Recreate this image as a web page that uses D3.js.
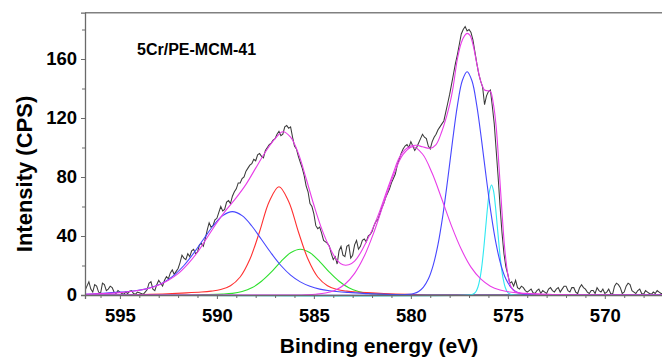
<!DOCTYPE html>
<html><head><meta charset="utf-8">
<script src="https://cdn.jsdelivr.net/npm/d3@7"></script>
<style>
body{margin:0;background:#fff;}
svg{display:block;}
text{font-family:"Liberation Sans",Arial,Helvetica,sans-serif;font-weight:bold;fill:#000;}
</style>
</head><body>
<svg id="chart" width="662" height="358"></svg>
<script>
// ---------- labels ----------
const sampleLabel = "5Cr/PE-MCM-41";
const xTitle = "Binding energy (eV)";
const yTitle = "Intensity (CPS)";
const xTickValues = [595, 590, 585, 580, 575, 570];
const yTickValues = [0, 40, 80, 120, 160];
const yMinorTicks = [20, 60, 100, 140, 180];
const xMinorTicks = [596, 594, 593, 592, 591, 589, 588, 587, 586, 584, 583, 582, 581, 579, 578, 577, 576, 574, 573, 572, 571, 569, 568];

// ---------- raw spectrum (counts, every 0.1 eV from 596.8 eV down to 567.0 eV) ----------
const rawStart = 596.8, rawStep = 0.1;
const rawCounts = [
 3, 6, 9, 4, 2, 7, 6, 2, 1, 8,
 7, 3, 4, 6, 5, 2, 1, 3, 2, 1,
 0.5, 2, 1, 2.5, 3, 1, 0.5, 2, 1.5, 1,
 0.5, 2, 3.5, 8, 9, 4, 3, 7, 10, 8,
 6, 10, 12.5, 11, 15, 17, 14, 16, 18, 22,
 27, 25, 24, 28, 26, 30, 31, 28, 29, 34,
 35, 33, 38, 44, 49, 46, 47, 51, 52, 56,
 60, 57, 58, 63, 64, 62, 67, 70, 72, 76,
 76, 79, 80, 84, 86, 88, 89, 92, 91, 95,
 96, 94, 93, 98, 100, 102, 103, 105, 106, 109,
 111, 108, 109, 114, 115, 113, 114, 107, 101, 99,
 94, 90, 86, 81, 74, 70, 62, 60, 55, 47,
 45, 46, 42, 37, 36, 35, 33, 28, 24, 26,
 21, 30, 33, 27, 26, 33, 34, 25, 27, 34,
 37, 31, 33, 37, 38, 36, 40, 41, 43, 47,
 50, 51, 55, 59, 62, 66, 69, 72, 76, 79,
 82, 88, 92, 96, 99, 101, 102, 100, 104, 101,
 98, 100, 103, 106, 109, 107, 106, 101, 99, 104,
 107, 109, 112, 114, 116, 118, 124, 130, 136, 143,
 150, 157, 163, 170, 177, 180, 182, 179, 180, 178,
 173, 165, 157, 150, 145, 141, 129, 135, 138, 139,
 128, 116, 98, 80, 60, 42, 28, 19, 14, 8,
 9, 6, 10, 5, 4, 6, 5, 3, 2, 3,
 4, 1.5, 1, 3, 4, 1, 3, 2, 1, 4,
 5, 3, 2, 4, 5, 2, 4, 6, 6, 3,
 2, 5, 5, 2, 1, 5, 7, 5, 4, 2,
 1, 3, 3, 1, 5, 3, 2, 4, 1, 2,
 4, 1, 0.5, 6, 8, 7, 5, 1, 2, 6,
 8, 7, 3, 2, 1, 3, 4, 1, 0.5, 3,
 2, 1, 0.5, 2, 1, 3, 2, 1, 1
];

// ---------- fitted components (energy eV, intensity) ----------
const blue1E = [596.8,596.2,595.7,595.2,594.7,594.2,593.7,593.2,592.7,592.2,591.7,591.2,590.7,590.2,589.7,589.2,588.7,588.2,587.7,587.2,586.7,586.2,585.7,585.2,584.7,584.2,583.7,583.2,582.2,581.2,580.2,579.2,567.0];
const blue1I = [0.5,0.9,1.3,1.8,2.2,2.9,4.0,5.9,8.9,13.5,20.0,28.3,37.6,46.8,53.8,56.5,53.8,46.8,37.6,28.3,20.0,13.5,8.9,5.9,4.0,2.9,2.2,1.8,0.9,0.4,0.1,0,0];

const redE = [596.8,594.8,593.8,592.8,591.8,590.8,590.3,589.8,589.3,588.8,588.3,587.8,587.3,586.8,586.3,585.8,585.3,584.8,584.3,583.8,583.3,582.8,581.8,580.8,579.8,578.8,567.0];
const redI = [0,0,0.3,0.7,1.3,2.0,2.6,3.7,6.3,12.2,24.2,42.9,63.4,73.4,63.4,42.9,24.2,12.2,6.3,3.7,2.6,2.0,1.3,0.7,0.3,0,0];

const greenE = [596.8,591.7,590.7,589.7,589.2,588.7,588.2,587.7,587.2,586.7,586.2,585.7,585.2,584.7,584.2,583.7,583.2,582.7,582.2,581.7,580.7,579.7,567.0];
const greenI = [0,0,0.25,0.6,1.1,2.4,4.9,9.3,15.5,22.7,28.6,31.0,28.6,22.7,15.5,9.3,4.9,2.4,1.1,0.6,0.25,0,0];

const magE = [596.8,585.9,585.4,584.9,584.4,583.9,583.4,582.9,582.4,581.9,581.4,580.9,580.4,579.9,579.4,578.9,578.4,577.9,577.4,576.9,576.4,575.9,575.4,574.9,574.4,573.9,572.9,571.9,570.9,567.0];
const magI = [0,0,0.15,0.5,1.3,3.3,7.3,14.7,26.4,42.7,62.1,81.1,95.3,100.5,95.6,82.5,64.9,46.7,31.0,18.9,10.9,6.0,3.4,2.0,1.3,1.0,0.4,0.1,0,0];

const blue2E = [596.8,580.6,580.1,579.85,579.6,579.35,579.1,578.85,578.6,578.35,578.1,577.85,577.6,577.35,577.1,576.85,576.6,576.35,576.1,575.85,575.6,575.35,575.1,574.85,574.6,574.35,574.1,573.6,567.0];
const blue2I = [0,0,0.4,1.0,2.4,5.4,10.8,20.1,34.3,54.0,78.3,104.5,128.4,145.3,151.4,145.3,128.4,104.5,78.3,54.0,34.3,20.1,10.8,5.4,2.4,1.0,0.4,0,0];

const cyanE = [596.8,577.04,576.84,576.74,576.64,576.54,576.44,576.34,576.24,576.14,576.04,575.94,575.84,575.74,575.64,575.54,575.44,575.34,575.24,575.14,575.04,574.94,574.84,574.64,567.0];
const cyanI = [0,0,0.4,1.0,2.4,5.4,10.9,19.6,31.7,46.1,60.2,70.7,74.6,70.7,60.2,46.1,31.7,19.6,10.9,5.4,2.4,1.0,0.4,0,0];

// ---------- overall fitted envelope ----------
const envE = [596.8,596.0,595.0,594.0,593.5,593.0,592.5,592.0,591.5,591.0,590.5,590.0,589.5,589.0,588.5,588.0,587.5,587.0,586.6,586.2,585.8,585.4,585.0,584.6,584.2,583.8,583.5,583.2,582.9,582.6,582.3,582.0,581.6,581.2,580.9,580.6,580.3,580.0,579.7,579.4,579.0,578.7,578.4,578.16,578.0,577.82,577.6,577.4,577.22,577.1,576.95,576.8,576.6,576.4,576.2,576.05,575.9,575.75,575.6,575.45,575.3,575.15,575.0,574.85,574.65,574.3,573.5,572.5,571.5,567.0];
const envI = [0.5,0.9,1.6,3.2,4.6,6.8,10,14.5,21,29,39,49,58,66,75,86,97,106,110.7,107,96,79,61,45,32.5,23.5,20.5,20.5,23,28.5,36,44,57,72,83,93,98.5,101,101.5,100.5,99.5,102,111,121,129,141,160,171,176,177.4,176,170,157,145,139,138.5,138,130,114,86,56,30,14,6,2.5,1.2,0.6,0.2,0,0];

// ---------- drawing ----------
const svg = d3.select("#chart");
const x = d3.scaleLinear().domain([596.8, 567.0]).range([85, 663]);
const y = d3.scaleLinear().domain([0, 191.4]).range([295, 12.7]);

svg.append("clipPath").attr("id", "clip").append("rect")
  .attr("x", 85).attr("y", 0).attr("width", 580).attr("height", 297);

const rawPts = rawCounts.map((v, i) => [rawStart - i * rawStep, v]);
const rawLine = d3.line().x(d => x(d[0])).y(d => y(d[1]));
const smooth = d3.line().x(d => x(d[0])).y(d => y(Math.max(0, d[1]))).curve(d3.curveCatmullRom.alpha(0.5));

const g = svg.append("g").attr("clip-path", "url(#clip)");

g.append("path").datum(rawPts).attr("d", rawLine)
  .attr("fill", "none").attr("stroke", "#3a3a3a").attr("stroke-width", 1.05);

const comps = [
  [greenE, greenI, "#2ee02e"],
  [redE, redI, "#ff3030"],
  [blue1E, blue1I, "#4646ff"],
  [cyanE, cyanI, "#2ee8f2"],
  [blue2E, blue2I, "#4646ff"],
  [magE, magI, "#e83ce8"],
  [envE, envI, "#e83ce8"]
];
comps.forEach(([E, I, col]) => {
  g.append("path").datum(E.map((e, i) => [e, I[i]])).attr("d", smooth)
    .attr("fill", "none").attr("stroke", col).attr("stroke-width", 1.1);
});

// frame top
svg.append("line").attr("x1", 85).attr("x2", 662).attr("y1", 12.7).attr("y2", 12.7)
  .attr("stroke", "#808080").attr("stroke-width", 1.4);

// axes
svg.append("g").attr("transform", `translate(0,${y(0)})`)
  .call(d3.axisBottom(x).tickValues(xTickValues).tickFormat(d3.format("d")).tickSize(4).tickPadding(10));
svg.append("g").attr("transform", `translate(0,${y(0)})`)
  .call(d3.axisBottom(x).tickValues(xMinorTicks).tickFormat("").tickSize(3))
  .call(s => s.select(".domain").remove());
svg.append("g").attr("transform", "translate(85,0)")
  .call(d3.axisLeft(y).tickValues(yTickValues).tickFormat(d3.format("d")).tickSize(4).tickPadding(4));
svg.append("g").attr("transform", "translate(85,0)")
  .call(d3.axisLeft(y).tickValues(yMinorTicks).tickFormat("").tickSize(3))
  .call(s => s.select(".domain").remove());

svg.selectAll(".domain").attr("stroke", "#6a6a6a").attr("stroke-width", 1.3);
svg.selectAll(".tick line").attr("stroke", "#6a6a6a");
svg.selectAll(".tick text").style("font-size", "18.5px").style("font-weight", "bold")
  .style("font-family", '"Liberation Sans", Arial, sans-serif').attr("fill", "#000");

// titles
svg.append("text").attr("x", 379).attr("y", 352.5).attr("text-anchor", "middle")
  .style("font-size", "21px").text(xTitle);
svg.append("text").attr("transform", "translate(32,174) rotate(-90)").attr("text-anchor", "middle")
  .style("font-size", "22px").text(yTitle);
svg.append("text").attr("x", 137).attr("y", 55).style("font-size", "16px").text(sampleLabel);
</script>
</body></html>
